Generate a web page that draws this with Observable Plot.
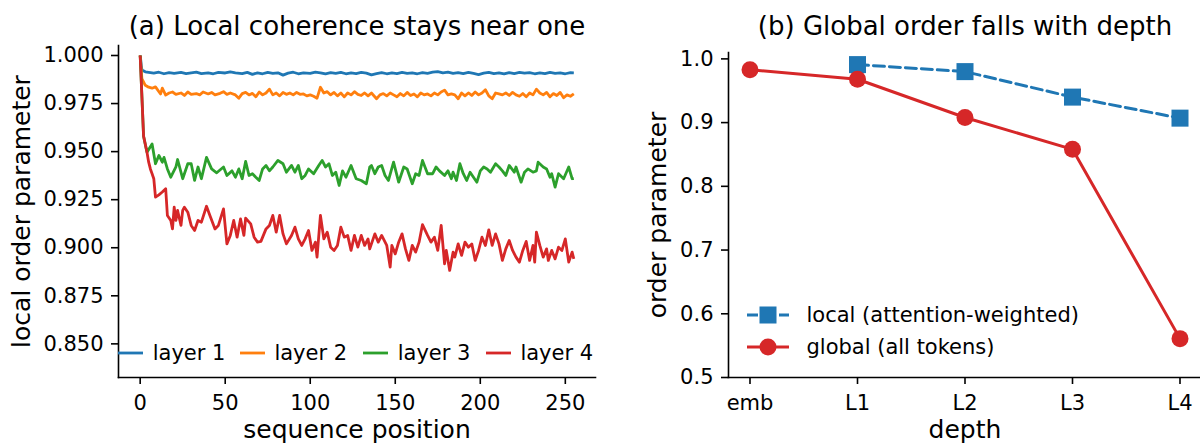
<!DOCTYPE html>
<html><head><meta charset="utf-8">
<script src="https://cdn.jsdelivr.net/npm/d3@7"></script>
<script src="https://cdn.jsdelivr.net/npm/@observablehq/plot@0.6"></script>
<style>
html,body{margin:0;padding:0;background:#fff;overflow:hidden;}
#root{position:relative;width:1200px;height:444px;overflow:hidden;font-family:"DejaVu Sans",sans-serif;color:#000;}
.panel{position:absolute;top:0;}
.leg{position:absolute;display:flex;align-items:center;height:24px;font-size:21px;line-height:24px;white-space:nowrap;font-family:"DejaVu Sans",sans-serif;}
.leg svg{display:block;}
</style></head><body><div id="root"></div>
<script>
// ---------- Panel (a) data ----------
const layerNames = ["layer 1", "layer 2", "layer 3", "layer 4"];
const layerColors = ["#1f77b4", "#ff7f0e", "#2ca02c", "#d62728"];
const positionTicks = [0, 50, 100, 150, 200, 250];
const localTicks = [0.85, 0.875, 0.9, 0.925, 0.95, 0.975, 1.0];

const layer1Pos = [0,1,3,5,8,11,14,17,20,24,27,30,33,36,40,43,46,50,53,56,60,63,66,69,72,75,78,81,84,87,90,93,96,100,103,106,109,112,115,118,121,124,127,130,133,136,139,142,145,148,151,154,157,160,163,166,169,172,175,178,181,184,187,190,193,196,199,202,205,208,211,214,217,220,223,226,229,232,235,238,241,244,247,250,253,255];
const layer1Val = [1.0,0.9925,0.9915,0.9912,0.9908,0.9913,0.9905,0.9911,0.9907,0.9912,0.9906,0.991,0.9913,0.9906,0.991,0.9905,0.9912,0.9909,0.9915,0.991,0.9906,0.9912,0.9902,0.991,0.9905,0.9912,0.9907,0.991,0.9898,0.9908,0.9913,0.9905,0.991,0.9907,0.9913,0.991,0.9904,0.9911,0.9907,0.9912,0.9905,0.991,0.9906,0.9912,0.9908,0.9899,0.9906,0.9911,0.9905,0.991,0.9906,0.9912,0.9907,0.991,0.9905,0.9911,0.9907,0.9913,0.9916,0.991,0.9913,0.9907,0.9911,0.9906,0.9912,0.9907,0.9901,0.9908,0.9912,0.9906,0.991,0.9904,0.9911,0.9906,0.9912,0.9908,0.9911,0.9905,0.991,0.9906,0.9912,0.9907,0.991,0.9905,0.9911,0.991];

const layer2Pos = [0,1,3,5,7,9,12,13,15,17,19,21,24,26,28,30,33,35,37,40,42,44,47,49,51,53,56,58,60,62,64,66,68,70,72,74,76,78,80,82,84,86,88,90,92,94,96,98,100,102,104,106,108,110,112,114,116,118,120,122,124,126,128,130,132,134,136,139,141,143,145,147,149,151,153,155,157,159,161,163,165,167,169,171,173,175,177,179,181,183,185,187,189,191,193,195,197,199,201,203,205,207,209,211,213,215,217,219,221,223,225,227,229,231,233,235,237,239,241,243,245,247,249,251,253,255];
const layer2Val = [1.0,0.988,0.9845,0.9835,0.983,0.9837,0.980,0.983,0.9794,0.9805,0.981,0.9798,0.9805,0.9792,0.981,0.9798,0.9802,0.9795,0.981,0.980,0.9808,0.9795,0.9803,0.9812,0.9798,0.9805,0.9795,0.9778,0.9802,0.9808,0.9795,0.9803,0.9785,0.981,0.9795,0.9805,0.9825,0.9795,0.9805,0.979,0.9808,0.9798,0.9805,0.9795,0.9808,0.9798,0.980,0.979,0.9795,0.9788,0.9778,0.9835,0.9805,0.9812,0.9795,0.9808,0.979,0.9805,0.9785,0.9805,0.9795,0.9812,0.9798,0.9792,0.9805,0.979,0.9805,0.9775,0.9795,0.9802,0.979,0.9805,0.9795,0.9785,0.9802,0.979,0.9808,0.9792,0.980,0.9785,0.9805,0.9795,0.980,0.979,0.9805,0.9795,0.981,0.982,0.9795,0.980,0.9795,0.9775,0.9805,0.979,0.9805,0.9792,0.981,0.9795,0.9805,0.9822,0.979,0.9775,0.9805,0.980,0.9795,0.9805,0.9792,0.9808,0.9795,0.9788,0.9802,0.9785,0.9805,0.9795,0.9825,0.9805,0.9795,0.9808,0.9785,0.9802,0.9792,0.9808,0.978,0.9795,0.9788,0.980];

const layer3Pos = [0,2,4,7,9,11,13,14,16,18,21,22,25,28,30,32,34,36,39,42,45,49,51,54,56,58,60,62,64,66,68,70,72,74,76,78,81,84,86,89,91,93,95,97,99,102,105,107,109,111,113,115,117,119,121,124,127,130,133,135,136,138,140,142,144,146,149,152,155,157,160,162,164,166,169,172,174,176,179,181,183,184,186,188,190,192,194,196,198,200,202,204,206,209,211,213,215,217,220,221,224,226,228,231,233,234,237,239,241,242,244,246,249,252,254,255];
const layer3Val = [1.0,0.958,0.9497,0.954,0.9437,0.948,0.9445,0.947,0.941,0.9367,0.942,0.9459,0.9359,0.9437,0.9437,0.935,0.942,0.9359,0.947,0.941,0.939,0.942,0.9376,0.940,0.9367,0.941,0.9359,0.9449,0.9376,0.9385,0.9367,0.935,0.941,0.9428,0.940,0.942,0.9454,0.9437,0.9393,0.9428,0.9393,0.9428,0.9359,0.9376,0.941,0.9385,0.9428,0.9454,0.942,0.9437,0.9376,0.9393,0.9324,0.940,0.9367,0.9428,0.9359,0.935,0.9333,0.942,0.9428,0.9385,0.942,0.9428,0.9376,0.935,0.9445,0.9341,0.942,0.941,0.9333,0.9385,0.9376,0.9454,0.9385,0.9385,0.942,0.940,0.9376,0.940,0.9359,0.9393,0.935,0.9437,0.9385,0.935,0.9393,0.9367,0.9341,0.940,0.942,0.941,0.9393,0.9437,0.942,0.940,0.9376,0.9428,0.9393,0.942,0.9341,0.9393,0.941,0.9393,0.940,0.9445,0.942,0.941,0.9367,0.9385,0.9315,0.9385,0.9359,0.942,0.9359,0.936];

const layer4Pos = [0,2,4,5,6,7,8,9,11,13,15,16,18,19,20,21,22,24,25,26,28,30,32,34,36,39,41,44,46,49,51,53,55,57,59,61,62,65,67,69,71,74,76,78,80,82,84,86,89,91,93,95,97,99,101,103,104,106,108,110,112,114,116,118,120,122,124,126,128,130,132,134,135,138,140,142,145,147,148,150,152,154,156,158,160,162,164,166,169,171,173,175,177,179,180,182,184,185,187,189,191,193,195,197,199,201,203,205,207,209,211,213,215,217,219,221,223,225,227,229,231,232,233,235,237,239,240,242,244,246,248,250,252,254,255];
const layer4Val = [1.0,0.958,0.9497,0.9445,0.941,0.9385,0.9359,0.9263,0.9275,0.929,0.9307,0.9168,0.9142,0.9098,0.9211,0.9142,0.9194,0.9116,0.9194,0.9211,0.9185,0.9116,0.909,0.9142,0.9133,0.9216,0.9168,0.9098,0.9116,0.9202,0.902,0.9064,0.9142,0.9055,0.915,0.9064,0.9154,0.9124,0.9055,0.9029,0.9033,0.9098,0.9116,0.9168,0.9081,0.9168,0.9072,0.902,0.9064,0.9107,0.9046,0.9012,0.9046,0.909,0.8986,0.9029,0.8951,0.9168,0.9046,0.9081,0.9003,0.8986,0.9012,0.9107,0.9055,0.9064,0.8986,0.9064,0.9003,0.9064,0.9012,0.9046,0.8994,0.9072,0.9029,0.9064,0.9012,0.8899,0.9012,0.8968,0.9029,0.9072,0.8994,0.8934,0.9012,0.8977,0.9029,0.912,0.9064,0.9029,0.9055,0.8986,0.9116,0.8916,0.8986,0.8882,0.8977,0.8951,0.902,0.896,0.9029,0.9003,0.902,0.8934,0.8986,0.9055,0.9012,0.9093,0.9012,0.9072,0.902,0.8934,0.8994,0.9038,0.8986,0.8951,0.8925,0.8986,0.9033,0.8934,0.9012,0.8925,0.9081,0.9012,0.8951,0.8994,0.8934,0.8986,0.8942,0.9003,0.8986,0.9046,0.8925,0.8977,0.8942];

// ---------- Panel (b) data ----------
const depthLabels = ["emb", "L1", "L2", "L3", "L4"];
const globalOrder = [0.983, 0.968, 0.908, 0.858, 0.561];
const localOrder = [null, 0.991, 0.980, 0.940, 0.907];
const orderTicks = [0.5, 0.6, 0.7, 0.8, 0.9, 1.0];

const layerPos = [layer1Pos, layer2Pos, layer3Pos, layer4Pos];
const layerVal = [layer1Val, layer2Val, layer3Val, layer4Val];
const layerRows = layerNames.flatMap((name, i) =>
  layerPos[i].map((p, j) => ({layer: name, pos: p, value: layerVal[i][j]})));

const globalRows = depthLabels.map((d, i) => ({i, value: globalOrder[i]}));
const localRows = depthLabels.map((d, i) => ({i, value: localOrder[i]})).filter(r => r.value != null);

const FONT = "DejaVu Sans";
const root = document.getElementById("root");

// ---------- Panel (a) ----------
const chartA = Plot.plot({
  width: 600, height: 444,
  marginLeft: 118, marginRight: 5, marginTop: 45, marginBottom: 67,
  style: {fontFamily: FONT, fontSize: "21px", color: "#000", background: "transparent", overflow: "visible"},
  x: {domain: [-12.75, 267.75]},
  y: {domain: [0.8325, 1.0052]},
  color: {domain: layerNames, range: layerColors},
  marks: [
    Plot.axisX({ticks: positionTicks, tickSize: 7, tickPadding: 11, strokeWidth: 1.6, label: null, fontSize: 21}),
    Plot.axisY({ticks: localTicks, tickSize: 7, tickPadding: 8, strokeWidth: 1.6, tickFormat: d3.format(".3f"), label: null, fontSize: 21}),
    Plot.frame({anchor: "left", strokeWidth: 1.6}),
    Plot.frame({anchor: "bottom", strokeWidth: 1.6}),
    Plot.line(layerRows, {x: "pos", y: "value", z: "layer", stroke: "layer", strokeWidth: 2.8, strokeLinejoin: "round", strokeLinecap: "butt"}),
    Plot.text(["sequence position"], {frameAnchor: "bottom", dy: 52, fontSize: 25, lineAnchor: "middle", textAnchor: "middle"}),
    Plot.text(["local order parameter"], {frameAnchor: "left", dx: -97, rotate: -90, fontSize: 25, lineAnchor: "middle", textAnchor: "middle"}),
    Plot.text(["(a) Local coherence stays near one"], {frameAnchor: "top", dy: -19, fontSize: 26, lineAnchor: "middle", textAnchor: "middle"})
  ]
});
chartA.classList.add("panel");
chartA.style.left = "0px";
root.appendChild(chartA);

// ---------- Panel (b) ----------
const chartB = Plot.plot({
  width: 601, height: 444,
  marginLeft: 128, marginRight: 0, marginTop: 52, marginBottom: 67,
  style: {fontFamily: FONT, fontSize: "21px", color: "#000", background: "transparent", overflow: "visible"},
  x: {domain: [-0.2, 4.2]},
  y: {domain: [0.5, 1.01]},
  marks: [
    Plot.axisX({ticks: [0, 1, 2, 3, 4], tickFormat: i => depthLabels[i], tickSize: 7, tickPadding: 11, strokeWidth: 1.6, label: null, fontSize: 21}),
    Plot.axisY({ticks: orderTicks, tickFormat: d3.format(".1f"), tickSize: 7, tickPadding: 8, strokeWidth: 1.6, label: null, fontSize: 21}),
    Plot.frame({anchor: "left", strokeWidth: 1.6}),
    Plot.frame({anchor: "bottom", strokeWidth: 1.6}),
    Plot.line(localRows, {x: "i", y: "value", stroke: "#1f77b4", strokeWidth: 3, strokeDasharray: "11,5"}),
    Plot.dot(localRows, {x: "i", y: "value", symbol: "square", r: 9.6, fill: "#1f77b4", stroke: "none"}),
    Plot.line(globalRows, {x: "i", y: "value", stroke: "#d62728", strokeWidth: 3}),
    Plot.dot(globalRows, {x: "i", y: "value", r: 8.5, fill: "#d62728", stroke: "none"}),
    Plot.text(["depth"], {frameAnchor: "bottom", dy: 52, fontSize: 25, lineAnchor: "middle", textAnchor: "middle"}),
    Plot.text(["order parameter"], {frameAnchor: "left", dx: -71, rotate: -90, fontSize: 25, lineAnchor: "middle", textAnchor: "middle"}),
    Plot.text(["(b) Global order falls with depth"], {frameAnchor: "top", dy: -26, fontSize: 26, lineAnchor: "middle", textAnchor: "middle"})
  ]
});
chartB.classList.add("panel");
chartB.style.left = "600px";
root.appendChild(chartB);

// ---------- Legends (HTML overlays) ----------
function legendItem(left, centerY, swatch, gap, label) {
  const div = document.createElement("div");
  div.className = "leg";
  div.style.left = left + "px";
  div.style.top = (centerY - 12) + "px";
  div.innerHTML = swatch + `<span style="margin-left:${gap}px">${label}</span>`;
  root.appendChild(div);
}
const legendLeftA = [118.3, 240, 363.3, 486];
layerNames.forEach((name, i) => {
  const sw = `<svg width="25" height="24"><line x1="0" y1="12" x2="25" y2="12" stroke="${layerColors[i]}" stroke-width="2.8"/></svg>`;
  legendItem(legendLeftA[i], 353.3, sw, 9.4, name);
});
const swLocal = `<svg width="42" height="24"><line x1="0" y1="12" x2="42" y2="12" stroke="#1f77b4" stroke-width="3" stroke-dasharray="11,5"/><rect x="12.5" y="3.5" width="17" height="17" fill="#1f77b4"/></svg>`;
const swGlobal = `<svg width="42" height="24"><line x1="0" y1="12" x2="42" y2="12" stroke="#d62728" stroke-width="3"/><circle cx="21" cy="12" r="8.5" fill="#d62728"/></svg>`;
legendItem(746.5, 315, swLocal, 18, "local (attention-weighted)");
legendItem(746.5, 346.7, swGlobal, 18, "global (all tokens)");
</script></body></html>
